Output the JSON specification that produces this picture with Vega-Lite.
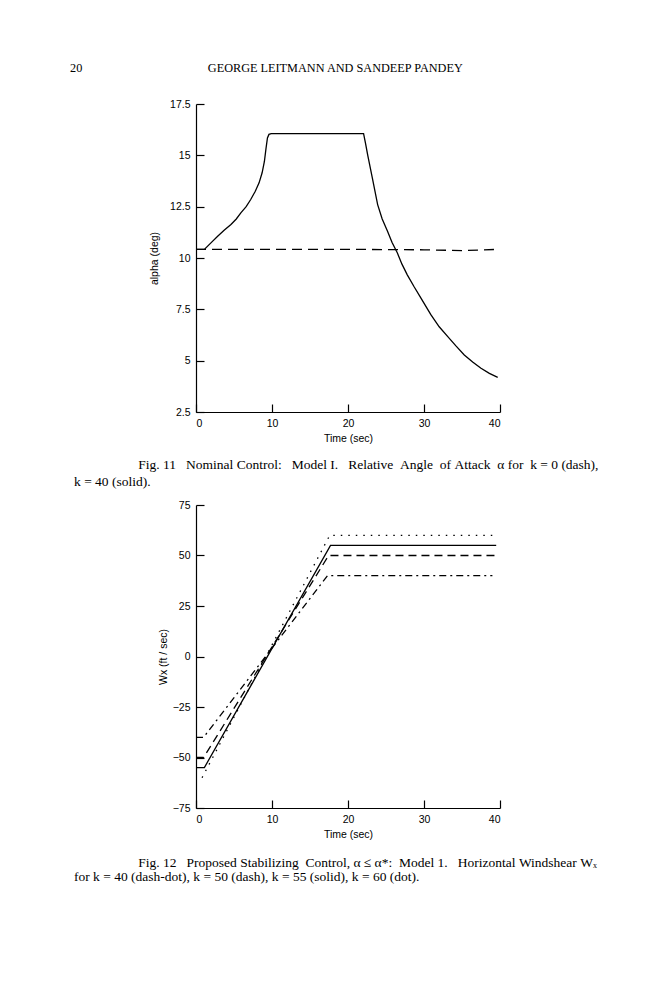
{
  "$schema": "https://vega.github.io/schema/vega-lite/v6.json",
  "background": "white",
  "padding": {"left": 70, "top": 61, "right": 5, "bottom": 5},
  "title": {
    "text": "20\u00a0\u00a0\u00a0\u00a0\u00a0\u00a0\u00a0\u00a0\u00a0\u00a0\u00a0\u00a0\u00a0\u00a0\u00a0\u00a0\u00a0\u00a0\u00a0\u00a0\u00a0\u00a0\u00a0\u00a0\u00a0\u00a0\u00a0\u00a0\u00a0\u00a0\u00a0\u00a0\u00a0\u00a0\u00a0\u00a0\u00a0\u00a0\u00a0\u00a0\u00a0GEORGE LEITMANN AND SANDEEP PANDEY",
    "anchor": "start",
    "frame": "group",
    "dx": -126,
    "offset": 25,
    "font": "Liberation Serif",
    "fontSize": 12.25,
    "fontWeight": "normal",
    "color": "black"
  },
  "config": {
    "view": {"stroke": null},
    "axis": {
      "grid": false,
      "domainColor": "black",
      "domainWidth": 1.2,
      "tickColor": "black",
      "tickWidth": 1.2,
      "tickSize": -8,
      "labelPadding": 14,
      "labelFont": "Liberation Sans",
      "labelFontSize": 10.5,
      "labelColor": "black",
      "titleFont": "Liberation Sans",
      "titleFontSize": 10.5,
      "titleFontWeight": "normal",
      "titleColor": "black"
    },
    "title": {
      "font": "Liberation Serif",
      "fontSize": 13.5,
      "fontWeight": "normal",
      "color": "black"
    }
  },
  "datasets": {
    "fig11": [
      {"k": "k = 40", "t": 0, "v": 10.42},
      {"k": "k = 40", "t": 1.1, "v": 10.42},
      {"k": "k = 40", "t": 2.0, "v": 10.75},
      {"k": "k = 40", "t": 2.85, "v": 11.06},
      {"k": "k = 40", "t": 3.7, "v": 11.35},
      {"k": "k = 40", "t": 4.6, "v": 11.63},
      {"k": "k = 40", "t": 5.3, "v": 11.9},
      {"k": "k = 40", "t": 5.9, "v": 12.2},
      {"k": "k = 40", "t": 6.6, "v": 12.5},
      {"k": "k = 40", "t": 7.2, "v": 12.85},
      {"k": "k = 40", "t": 7.8, "v": 13.25},
      {"k": "k = 40", "t": 8.3, "v": 13.66},
      {"k": "k = 40", "t": 8.7, "v": 14.15},
      {"k": "k = 40", "t": 9.0, "v": 14.7},
      {"k": "k = 40", "t": 9.2, "v": 15.3},
      {"k": "k = 40", "t": 9.4, "v": 15.85},
      {"k": "k = 40", "t": 9.6, "v": 16.02},
      {"k": "k = 40", "t": 9.9, "v": 16.06},
      {"k": "k = 40", "t": 22.05, "v": 16.06},
      {"k": "k = 40", "t": 22.3, "v": 15.6},
      {"k": "k = 40", "t": 22.6, "v": 15.0},
      {"k": "k = 40", "t": 23.2, "v": 13.9},
      {"k": "k = 40", "t": 23.9, "v": 12.6},
      {"k": "k = 40", "t": 24.5, "v": 11.9},
      {"k": "k = 40", "t": 25.2, "v": 11.3},
      {"k": "k = 40", "t": 25.8, "v": 10.75},
      {"k": "k = 40", "t": 26.5, "v": 10.24},
      {"k": "k = 40", "t": 27.1, "v": 9.7},
      {"k": "k = 40", "t": 27.8, "v": 9.18},
      {"k": "k = 40", "t": 28.7, "v": 8.6},
      {"k": "k = 40", "t": 29.6, "v": 8.05},
      {"k": "k = 40", "t": 30.9, "v": 7.24},
      {"k": "k = 40", "t": 32.0, "v": 6.65},
      {"k": "k = 40", "t": 33.1, "v": 6.18},
      {"k": "k = 40", "t": 34.2, "v": 5.72},
      {"k": "k = 40", "t": 35.3, "v": 5.28},
      {"k": "k = 40", "t": 36.4, "v": 4.93},
      {"k": "k = 40", "t": 37.5, "v": 4.63},
      {"k": "k = 40", "t": 38.6, "v": 4.38},
      {"k": "k = 40", "t": 39.7, "v": 4.19},
      {"k": "k = 0", "t": 0, "v": 10.42},
      {"k": "k = 0", "t": 20, "v": 10.42},
      {"k": "k = 0", "t": 30, "v": 10.4},
      {"k": "k = 0", "t": 35, "v": 10.36},
      {"k": "k = 0", "t": 39.7, "v": 10.42}
    ],
    "fig12": [
      {"k": "k = 55", "t": 0, "v": -55},
      {"k": "k = 55", "t": 1.1, "v": -55},
      {"k": "k = 55", "t": 17.7, "v": 55},
      {"k": "k = 55", "t": 39.5, "v": 55},
      {"k": "k = 50", "t": 0, "v": -50},
      {"k": "k = 50", "t": 1.0, "v": -50},
      {"k": "k = 50", "t": 17.45, "v": 50},
      {"k": "k = 50", "t": 39.5, "v": 50},
      {"k": "k = 40", "t": 0, "v": -40},
      {"k": "k = 40", "t": 1.0, "v": -40},
      {"k": "k = 40", "t": 17.3, "v": 40},
      {"k": "k = 40", "t": 39.0, "v": 40},
      {"k": "k = 60", "t": 0.8, "v": -60},
      {"k": "k = 60", "t": 17.6, "v": 60},
      {"k": "k = 60", "t": 39.0, "v": 60}
    ]
  },
  "vconcat": [
    {
      "width": 304,
      "height": 308,
      "data": {"name": "fig11"},
      "title": {
        "text": [
          "\u200b\u00a0\u00a0\u00a0\u00a0\u00a0\u00a0\u00a0\u00a0\u00a0\u00a0\u00a0\u00a0\u00a0\u00a0\u00a0\u00a0\u00a0\u00a0\u00a0Fig.\u00a011\u00a0\u00a0\u00a0Nominal\u00a0Control:\u00a0\u00a0\u00a0Model\u00a0I.\u00a0\u00a0\u00a0Relative\u00a0\u00a0Angle\u00a0\u00a0of\u00a0Attack\u00a0\u00a0α\u00a0for\u00a0\u00a0k\u00a0=\u00a00\u00a0(dash),",
          "k = 40 (solid)."
        ],
        "orient": "bottom",
        "anchor": "start",
        "frame": "group",
        "dx": -122,
        "offset": 14,
        "lineHeight": 17
      },
      "encoding": {
        "x": {
          "field": "t",
          "type": "quantitative",
          "title": "Time (sec)",
          "scale": {"domain": [0, 40], "nice": false},
          "axis": {"values": [0, 10, 20, 30, 40], "titlePadding": 5}
        },
        "y": {
          "field": "v",
          "type": "quantitative",
          "title": "alpha (deg)",
          "scale": {"domain": [2.5, 17.5], "nice": false, "zero": false},
          "axis": {
            "values": [2.5, 5, 7.5, 10, 12.5, 15, 17.5],
            "labelExpr": "datum.value",
            "titlePadding": 10
          }
        }
      },
      "layer": [
        {
          "transform": [{"filter": "datum.k === 'k = 0'"}],
          "mark": {"type": "line", "color": "black", "strokeWidth": 1.3, "strokeDash": [10, 6]}
        },
        {
          "transform": [{"filter": "datum.k === 'k = 40'"}],
          "mark": {"type": "line", "color": "black", "strokeWidth": 1.3}
        }
      ]
    },
    {
      "width": 304,
      "height": 303,
      "data": {"name": "fig12"},
      "title": {
        "text": [
          "\u200b\u00a0\u00a0\u00a0\u00a0\u00a0\u00a0\u00a0\u00a0\u00a0\u00a0\u00a0\u00a0\u00a0\u00a0\u00a0\u00a0\u00a0\u00a0\u00a0Fig.\u00a012\u00a0\u00a0\u00a0Proposed\u00a0Stabilizing\u00a0\u00a0Control,\u00a0α\u00a0≤\u00a0α*:\u00a0\u00a0Model\u00a01.\u00a0\u00a0\u00a0Horizontal\u00a0Windshear\u00a0Wₓ",
          "for k = 40 (dash-dot), k = 50 (dash), k = 55 (solid), k = 60 (dot)."
        ],
        "orient": "bottom",
        "anchor": "start",
        "frame": "group",
        "dx": -122,
        "offset": 16,
        "lineHeight": 13.5
      },
      "encoding": {
        "x": {
          "field": "t",
          "type": "quantitative",
          "title": "Time (sec)",
          "scale": {"domain": [0, 40], "nice": false},
          "axis": {"values": [0, 10, 20, 30, 40], "titlePadding": 5}
        },
        "y": {
          "field": "v",
          "type": "quantitative",
          "title": "Wx (ft / sec)",
          "scale": {"domain": [-75, 75], "nice": false},
          "axis": {"values": [-75, -50, -25, 0, 25, 50, 75], "titlePadding": 4}
        }
      },
      "layer": [
        {
          "transform": [{"filter": "datum.k === 'k = 40'"}],
          "mark": {"type": "line", "color": "black", "strokeWidth": 1.3, "strokeDash": [7, 4, 2, 4]}
        },
        {
          "transform": [{"filter": "datum.k === 'k = 50'"}],
          "mark": {"type": "line", "color": "black", "strokeWidth": 1.3, "strokeDash": [8, 5]}
        },
        {
          "transform": [{"filter": "datum.k === 'k = 55'"}],
          "mark": {"type": "line", "color": "black", "strokeWidth": 1.3}
        },
        {
          "transform": [{"filter": "datum.k === 'k = 60'"}],
          "mark": {"type": "line", "color": "black", "strokeWidth": 1.3, "strokeDash": [1.5, 6]}
        }
      ]
    }
  ],
  "spacing": 93,
  "bounds": "flush"
}
